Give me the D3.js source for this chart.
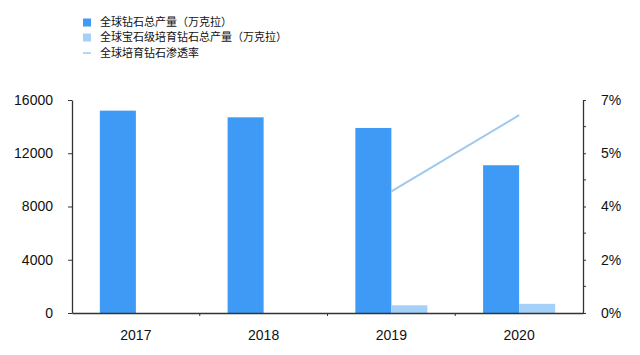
<!DOCTYPE html>
<html>
<head>
<meta charset="utf-8">
<script src="https://cdn.jsdelivr.net/npm/d3@7"></script>
<style>
  body { margin: 0; background: #fff; }
  text { font-family: "Helvetica Neue", Arial, "Liberation Sans", "Noto Sans CJK SC", sans-serif; }
</style>
</head>
<body>
<div id="chart"></div>
<script>
const years = ["2017", "2018", "2019", "2020"]
const totalOutput = [15200, 14700, 13900, 11100]      // 万克拉
const labGrownOutput = [null, null, 580, 690]         // 万克拉
const penetration = [null, null, 4.0, 6.5]            // %
const leftTicks = [0, 4000, 8000, 12000, 16000]
const rightTicks = [0, 1.75, 3.5, 5.25, 7]
const rightTickLabels = ["0%", "2%", "4%", "5%", "7%"]
const rightMinorTicks = [0.875, 2.625, 4.375, 6.125]
const legendNames = ["全球钻石总产量（万克拉）", "全球宝石级培育钻石总产量（万克拉）", "全球培育钻石渗透率"]

const W = 640, H = 355
const MARGIN = {TOP: 100, BOTTOM: 42, LEFT: 72, RIGHT: 57}
const WIDTH = W - MARGIN.LEFT - MARGIN.RIGHT
const HEIGHT = H - MARGIN.TOP - MARGIN.BOTTOM

const DARK = "#3f9af6"
const LIGHT = "#a5d1f8"
const LINE = "#9fc8ec"

const svg = d3.select("#chart").append("svg")
  .attr("width", W)
  .attr("height", H)

const g = svg.append("g")
  .attr("transform", `translate(${MARGIN.LEFT}, ${MARGIN.TOP})`)

// scales
const x = d3.scaleBand()
  .domain(years)
  .range([0, WIDTH])
  .paddingInner(0.436)
  .paddingOuter(0.218)

const xSub = d3.scaleBand()
  .domain(["total", "lab"])
  .range([0, x.bandwidth()])

const y = d3.scaleLinear().domain([0, 16000]).range([HEIGHT, 0])
const y2 = d3.scaleLinear().domain([0, 7]).range([HEIGHT, 0])

// bars
const rows = years.map((yr, i) => ({year: yr, total: totalOutput[i], lab: labGrownOutput[i], pen: penetration[i]}))

g.selectAll("rect.total")
  .data(rows)
  .enter().append("rect")
  .attr("class", "total")
  .attr("x", d => x(d.year) + xSub("total"))
  .attr("y", d => y(d.total))
  .attr("width", xSub.bandwidth())
  .attr("height", d => HEIGHT - y(d.total))
  .attr("fill", DARK)

g.selectAll("rect.lab")
  .data(rows.filter(d => d.lab != null))
  .enter().append("rect")
  .attr("class", "lab")
  .attr("x", d => x(d.year) + xSub("lab"))
  .attr("y", d => y(d.lab))
  .attr("width", xSub.bandwidth())
  .attr("height", d => HEIGHT - y(d.lab))
  .attr("fill", LIGHT)

// penetration line
const line = d3.line()
  .x(d => x(d.year) + x.bandwidth() / 2)
  .y(d => y2(d.pen))

g.append("path")
  .datum(rows.filter(d => d.pen != null))
  .attr("d", line)
  .attr("fill", "none")
  .attr("stroke", LINE)
  .attr("stroke-width", 2)

// axes
const styleAxis = sel => {
  sel.select(".domain").attr("stroke", "#333").attr("stroke-width", 1.3)
  sel.selectAll(".tick line").attr("stroke", "#333")
  sel.selectAll(".tick text").attr("fill", "#111").style("font-size", "14px")
}

const xAxis = g.append("g")
  .attr("transform", `translate(0, ${HEIGHT})`)
  .call(d3.axisBottom(x).tickSize(0).tickPadding(17))
  .call(styleAxis)

// little ticks between categories
xAxis.selectAll(".sep")
  .data(years.slice(1))
  .enter().append("line")
  .attr("class", "sep")
  .attr("x1", d => x(d) - x.step() * x.paddingInner() / 2)
  .attr("x2", d => x(d) - x.step() * x.paddingInner() / 2)
  .attr("y1", 0).attr("y2", 3)
  .attr("stroke", "#333")

g.append("g")
  .call(d3.axisLeft(y).tickValues(leftTicks).tickFormat(d3.format("d"))
    .tickSize(4).tickPadding(15).tickSizeOuter(0))
  .call(styleAxis)

const rightAxis = g.append("g")
  .attr("transform", `translate(${WIDTH}, 0)`)
  .call(d3.axisRight(y2).tickValues(rightTicks)
    .tickFormat((d, i) => rightTickLabels[i])
    .tickSize(3).tickPadding(15).tickSizeOuter(0))
  .call(styleAxis)

rightAxis.selectAll(".minor")
  .data(rightMinorTicks)
  .enter().append("line")
  .attr("class", "minor")
  .attr("x1", 0).attr("x2", 3)
  .attr("y1", d => y2(d)).attr("y2", d => y2(d))
  .attr("stroke", "#333")

// legend
const legend = svg.append("g").attr("transform", "translate(83, 0)")
const legendY = [22.5, 37.5, 53]
legendNames.forEach((name, i) => {
  const row = legend.append("g").attr("transform", `translate(0, ${legendY[i]})`)
  if (i < 2) {
    row.append("rect")
      .attr("x", 0).attr("y", -4)
      .attr("width", 8).attr("height", 8)
      .attr("fill", i === 0 ? DARK : LIGHT)
  } else {
    row.append("line")
      .attr("x1", 0).attr("x2", 8)
      .attr("y1", 0).attr("y2", 0)
      .attr("stroke", LINE).attr("stroke-width", 1.5)
  }
  row.append("text")
    .attr("x", 17).attr("y", 0)
    .attr("dy", "0.35em")
    .style("font-size", "11px")
    .attr("fill", "#111")
    .text(name)
})
</script>
</body>
</html>
